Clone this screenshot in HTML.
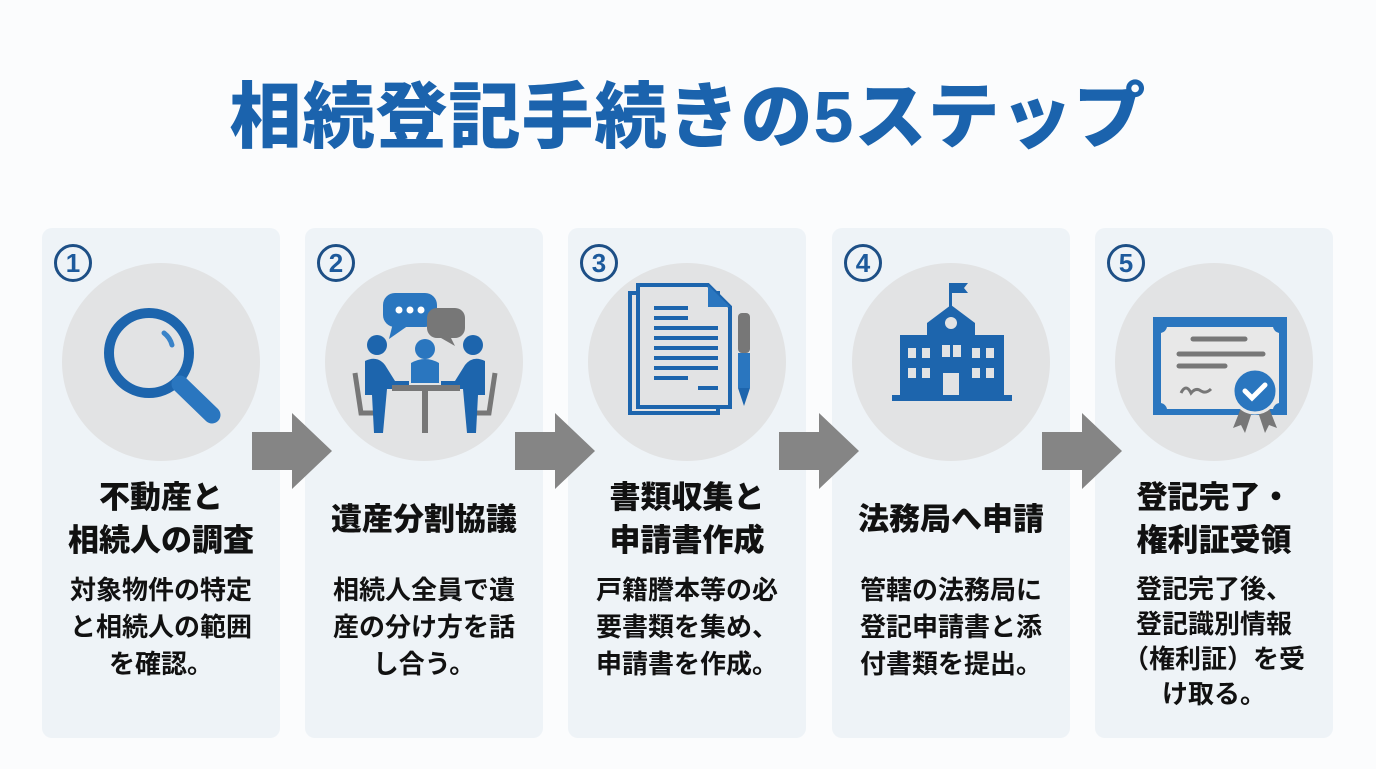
<!DOCTYPE html>
<html><head><meta charset="utf-8"><style>
body{margin:0;width:1376px;height:769px;background:#fbfcfd;position:relative;overflow:hidden;font-family:"Liberation Sans","Noto Sans CJK JP",sans-serif;}
.t{position:absolute;left:0;width:1376px;top:76px;text-align:center;font-size:72px;font-weight:900;color:#1b63ad;letter-spacing:1px;line-height:84px}
.card{position:absolute;top:228px;width:238px;height:510px;background:#eef3f7;border-radius:10px}
.num{position:absolute;left:12px;top:16px;width:32px;height:32px;border:3px solid #1d4f86;border-radius:50%;color:#1d5a9c;font-weight:900;font-size:26px;line-height:32px;text-align:center}
.circ{position:absolute;left:20px;top:35px;width:198px;height:198px;border-radius:50%;background:#e2e3e4}
.circ svg{position:absolute;left:0;top:0}
.h{position:absolute;left:-10px;width:258px;text-align:center;font-weight:900;font-size:31px;line-height:43px;color:#111}
.b{position:absolute;left:-10px;width:258px;top:344px;text-align:center;font-weight:700;font-size:26px;line-height:37px;color:#111}
.arr{position:absolute;top:413px}
</style></head><body>
<div class="t">相続登記手続きの5ステップ</div>

<div class="card" style="left:42px"><div class="num">1</div>
<div class="circ"><svg width="198" height="198"><circle cx="87" cy="90" r="40" fill="none" stroke="#1d65ad" stroke-width="10"/><path d="M102 70 A22 22 0 0 1 110 82" stroke="#3a83c8" stroke-width="5" fill="none" stroke-linecap="round"/><line x1="118" y1="121" x2="150" y2="152" stroke="#2a76bf" stroke-width="17" stroke-linecap="round"/></svg></div>
<div class="h" style="top:248px">不動産と<br>相続人の調査</div>
<div class="b">対象物件の特定<br>と相続人の範囲<br>を確認。</div></div>

<div class="card" style="left:305px"><div class="num">2</div>
<div class="circ"><svg width="198" height="198">
<rect x="58" y="30" width="54" height="34" rx="12" fill="#2a76bf"/><path d="M68 60 L64 76 L84 62Z" fill="#2a76bf"/><circle cx="74" cy="47" r="3.5" fill="#fff"/><circle cx="85" cy="47" r="3.5" fill="#fff"/><circle cx="96" cy="47" r="3.5" fill="#fff"/>
<path d="M112 45 h18 a10 10 0 0 1 10 10 v10 a10 10 0 0 1 -10 10 h-4 l4 8 -14 -8 h-4 a10 10 0 0 1 -10 -10 v-10 a10 10 0 0 1 10 -10z" fill="#777"/>
<path d="M30 110 l6 40 h18" stroke="#777" stroke-width="5" fill="none"/><path d="M170 110 l-6 40 h-18" stroke="#777" stroke-width="5" fill="none"/>
<circle cx="52" cy="82" r="10" fill="#1d65ad"/><circle cx="148" cy="82" r="10" fill="#1d65ad"/><circle cx="100" cy="86" r="10" fill="#2a76bf"/>
<path d="M86 100 q14 -8 28 0 v20 h-28z" fill="#2a76bf"/>
<path d="M40 98 q12 -6 20 4 l10 16 h14 v8 h-22 l-4 44 h-9 l-2 -38 h-7z" fill="#1d65ad"/>
<path d="M160 98 q-12 -6 -20 4 l-10 16 h-14 v8 h22 l4 44 h9 l2 -38 h7z" fill="#1d65ad"/>
<rect x="67" y="122" width="68" height="6" fill="#777"/><rect x="97" y="125" width="6" height="45" fill="#777"/></svg></div>
<div class="h" style="top:270px">遺産分割協議</div>
<div class="b">相続人全員で遺<br>産の分け方を話<br>し合う。</div></div>

<div class="card" style="left:568px"><div class="num">3</div>
<div class="circ"><svg width="198" height="198"><rect x="42" y="30" width="88" height="120" fill="#e2e3e4" stroke="#1d65ad" stroke-width="4"/><path d="M50 22 h70 l22 22 v100 h-92z" fill="#e2e3e4" stroke="#1d65ad" stroke-width="4"/><path d="M120 22 v22 h22z" fill="#2a76bf"/><g stroke="#1d65ad" stroke-width="4"><line x1="66" y1="45" x2="100" y2="45"/><line x1="66" y1="55" x2="100" y2="55"/><line x1="66" y1="65" x2="130" y2="65"/><line x1="66" y1="75" x2="130" y2="75"/><line x1="66" y1="85" x2="130" y2="85"/><line x1="66" y1="95" x2="130" y2="95"/><line x1="66" y1="105" x2="130" y2="105"/><line x1="66" y1="115" x2="100" y2="115"/><line x1="110" y1="125" x2="130" y2="125"/></g><rect x="150" y="50" width="12" height="40" rx="4" fill="#777"/><rect x="150" y="90" width="12" height="35" fill="#2a76bf"/><path d="M150 125 h12 l-6 18z" fill="#1d65ad"/></svg></div>
<div class="h" style="top:248px">書類収集と<br>申請書作成</div>
<div class="b">戸籍謄本等の必<br>要書類を集め、<br>申請書を作成。</div></div>

<div class="card" style="left:832px"><div class="num">4</div>
<div class="circ"><svg width="198" height="198" fill="#1d65ad"><rect x="97" y="20" width="3" height="25"/><path d="M100 20 h16 l-4 5 4 5 h-16z"/><path d="M75 60 L99 42 L123 60 V75 H75Z"/><rect x="48" y="72" width="104" height="62"/><rect x="40" y="132" width="120" height="6"/><g fill="#e2e3e4"><circle cx="99" cy="60" r="6"/><rect x="56" y="85" width="8" height="10"/><rect x="70" y="85" width="8" height="10"/><rect x="120" y="85" width="8" height="10"/><rect x="134" y="85" width="8" height="10"/><rect x="56" y="105" width="8" height="10"/><rect x="70" y="105" width="8" height="10"/><rect x="120" y="105" width="8" height="10"/><rect x="134" y="105" width="8" height="10"/><rect x="90" y="82" width="8" height="12"/><rect x="101" y="82" width="8" height="12"/><rect x="91" y="110" width="16" height="22"/></g></svg></div>
<div class="h" style="top:270px">法務局へ申請</div>
<div class="b">管轄の法務局に<br>登記申請書と添<br>付書類を提出。</div></div>

<div class="card" style="left:1095px"><div class="num">5</div>
<div class="circ"><svg width="198" height="198"><rect x="38" y="54" width="134" height="98" fill="#2a76bf"/><path d="M52 64 h106 a8 8 0 0 0 6 6 v70 a8 8 0 0 0 -6 6 h-106 a8 8 0 0 0 -6 -6 v-70 a8 8 0 0 0 6 -6z" fill="#e8e8e8"/><g stroke="#777" stroke-width="5" stroke-linecap="round"><line x1="78" y1="76" x2="130" y2="76"/><line x1="64" y1="91" x2="148" y2="91"/><line x1="64" y1="103" x2="110" y2="103"/></g><path d="M66 130 q5 -10 10 0 q5 -6 10 -2 q5 3 10 -2" stroke="#777" stroke-width="3" fill="none"/><path d="M130 135 l-12 30 8-3 4 8 10-30z M150 135 l12 30 -8-3 -4 8 -10-30z" fill="#777"/><circle cx="140" cy="128" r="22" fill="#2a76bf" stroke="#e8e8e8" stroke-width="3"/><path d="M130 128 l7 7 13-13" stroke="#fff" stroke-width="5" fill="none" stroke-linecap="round"/></svg></div>
<div class="h" style="top:248px">登記完了・<br>権利証受領</div>
<div class="b" style="line-height:35px">登記完了後、<br>登記識別情報<br>（権利証）を受<br>け取る。</div></div>

<svg class="arr" style="left:252px" width="80" height="76"><path d="M0 19 h40 V0 L80 38 L40 76 V57 H0Z" fill="#858585"/></svg>
<svg class="arr" style="left:515px" width="80" height="76"><path d="M0 19 h40 V0 L80 38 L40 76 V57 H0Z" fill="#858585"/></svg>
<svg class="arr" style="left:779px" width="80" height="76"><path d="M0 19 h40 V0 L80 38 L40 76 V57 H0Z" fill="#858585"/></svg>
<svg class="arr" style="left:1042px" width="80" height="76"><path d="M0 19 h40 V0 L80 38 L40 76 V57 H0Z" fill="#858585"/></svg>
</body></html>
